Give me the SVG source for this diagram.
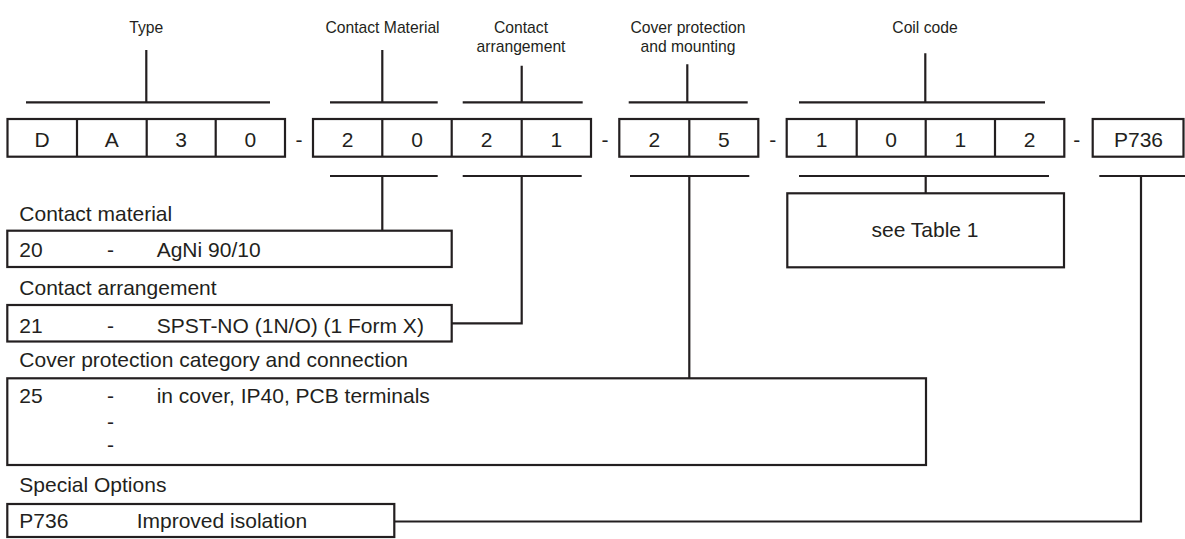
<svg xmlns="http://www.w3.org/2000/svg" width="1185" height="539" viewBox="0 0 1185 539">
<style>
.ln{stroke:#231f20;stroke-width:2.2;fill:none;stroke-linecap:butt}
.bx{stroke:#231f20;stroke-width:2.2;fill:#fff}
.lbl{font-family:"Liberation Sans",Arial,sans-serif;font-size:15.7px;fill:#231f20;text-anchor:middle}
.cell{font-family:"Liberation Sans",Arial,sans-serif;font-size:21px;fill:#231f20;text-anchor:middle}
.txt{font-family:"Liberation Sans",Arial,sans-serif;font-size:21px;fill:#231f20}
</style>
<rect width="1185" height="539" fill="#fff"/>

<g id="connectors">
  <!-- top brackets -->
  <path class="ln" d="M26 102.3H270M146.3 50V102.3"/>
  <path class="ln" d="M330 102.3H437.7M382.3 50V102.3"/>
  <path class="ln" d="M462.7 102.3H582.7M521.7 65.7V102.3"/>
  <path class="ln" d="M628.7 102.3H747.7M687.3 64.3V102.3"/>
  <path class="ln" d="M799 102.3H1045M925.3 53.3V102.3"/>
  <!-- bottom brackets -->
  <path class="ln" d="M330 176H437.7M382.3 176V230.7"/>
  <path class="ln" d="M462.7 176H581.7M521.7 176V323.3H451.7"/>
  <path class="ln" d="M630 176H749.3M689.3 176V378.3"/>
  <path class="ln" d="M799 176H1049M925.7 176V193.3"/>
  <path class="ln" d="M1099.3 176H1185M1141 176V521.5H394.3"/>
</g>

<g id="label-type"><text class="lbl" x="146.3" y="33.3">Type</text></g>
<g id="label-contact-material"><text class="lbl" x="382.5" y="33">Contact Material</text></g>
<g id="label-contact-arrangement"><text class="lbl" x="521" y="33">Contact</text><text class="lbl" x="521" y="51.5">arrangement</text></g>
<g id="label-cover"><text class="lbl" x="688" y="33">Cover protection</text><text class="lbl" x="688" y="51.5">and mounting</text></g>
<g id="label-coil"><text class="lbl" x="925" y="33">Coil code</text></g>

<g id="code-type">
  <rect class="bx" x="7.5" y="119" width="277.5" height="37.7"/>
  <path class="ln" d="M77 119V156.7M146.7 119V156.7M215.7 119V156.7"/>
  <text class="cell" x="42.2" y="146.7">D</text>
  <text class="cell" x="111.8" y="146.7">A</text>
  <text class="cell" x="181.2" y="146.7">3</text>
  <text class="cell" x="250.4" y="146.7">0</text>
</g>
<g id="dash1"><text class="cell" x="299" y="146.7">-</text></g>
<g id="code-contact">
  <rect class="bx" x="313" y="119" width="278" height="37.7"/>
  <path class="ln" d="M382.3 119V156.7M451.7 119V156.7M521.7 119V156.7"/>
  <text class="cell" x="347.7" y="146.7">2</text>
  <text class="cell" x="417" y="146.7">0</text>
  <text class="cell" x="486.7" y="146.7">2</text>
  <text class="cell" x="556.3" y="146.7">1</text>
</g>
<g id="dash2"><text class="cell" x="605" y="146.7">-</text></g>
<g id="code-cover">
  <rect class="bx" x="619.3" y="119" width="139" height="37.7"/>
  <path class="ln" d="M689.3 119V156.7"/>
  <text class="cell" x="654.3" y="146.7">2</text>
  <text class="cell" x="723.8" y="146.7">5</text>
</g>
<g id="dash3"><text class="cell" x="772.7" y="146.7">-</text></g>
<g id="code-coil">
  <rect class="bx" x="786.7" y="119" width="277.6" height="37.7"/>
  <path class="ln" d="M856.7 119V156.7M925.7 119V156.7M995 119V156.7"/>
  <text class="cell" x="821.7" y="146.7">1</text>
  <text class="cell" x="891.2" y="146.7">0</text>
  <text class="cell" x="960.3" y="146.7">1</text>
  <text class="cell" x="1029.7" y="146.7">2</text>
</g>
<g id="dash4"><text class="cell" x="1076.7" y="146.7">-</text></g>
<g id="code-special">
  <rect class="bx" x="1092.7" y="119" width="90.8" height="37.7"/>
  <text class="cell" x="1138.5" y="146.7">P736</text>
</g>

<g id="see-table">
  <rect class="bx" x="787.3" y="193.3" width="276.7" height="74"/>
  <text class="cell" x="925" y="237.3">see Table 1</text>
</g>

<g id="contact-material">
  <text class="txt" x="19.3" y="221">Contact material</text>
  <rect class="bx" x="7.3" y="230.7" width="444.4" height="36.3"/>
  <text class="txt" x="19.3" y="256.7">20</text>
  <text class="txt" x="107" y="256.7">-</text>
  <text class="txt" x="156.7" y="256.7">AgNi 90/10</text>
</g>

<g id="contact-arrangement">
  <text class="txt" x="19.3" y="294.5">Contact arrangement</text>
  <rect class="bx" x="7.3" y="305" width="444.4" height="36.5"/>
  <text class="txt" x="19.3" y="333.3">21</text>
  <text class="txt" x="107" y="333.3">-</text>
  <text class="txt" x="156.7" y="333.3">SPST-NO (1N/O) (1 Form X)</text>
</g>

<g id="cover-protection">
  <text class="txt" x="19.3" y="367">Cover protection category and connection</text>
  <rect class="bx" x="7.3" y="378.3" width="918.7" height="86.7"/>
  <text class="txt" x="19.3" y="403.3">25</text>
  <text class="txt" x="107" y="403.3">-</text>
  <text class="txt" x="156.7" y="403.3">in cover, IP40, PCB terminals</text>
  <text class="txt" x="107" y="429">-</text>
  <text class="txt" x="107" y="452.3">-</text>
</g>

<g id="special-options">
  <text class="txt" x="19.3" y="492">Special Options</text>
  <rect class="bx" x="7.3" y="504" width="387" height="33"/>
  <text class="txt" x="19.3" y="528.3">P736</text>
  <text class="txt" x="136.7" y="528.3">Improved isolation</text>
</g>
</svg>
